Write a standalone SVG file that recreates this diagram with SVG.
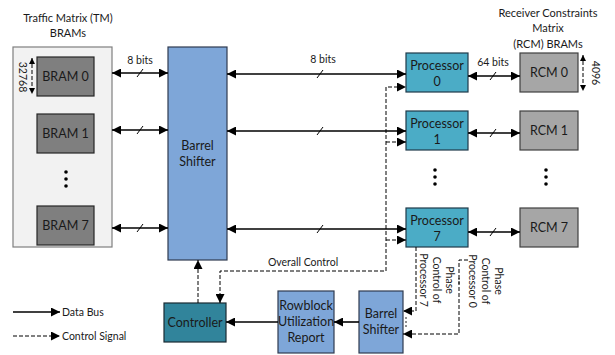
<svg xmlns="http://www.w3.org/2000/svg" width="615" height="355" viewBox="0 0 615 355">
  <style>
    text { font-family: Lato, "Open Sans", "Liberation Sans", sans-serif; fill: #1a1a1a; }
    .lbl { font-size: 11px; text-anchor: middle; }
    .box { font-size: 12.5px; text-anchor: middle; }
    .small { font-size: 10.5px; }
    .bram { fill: #7f7f7f; stroke: #262626; stroke-width: 1.2; }
    .rcm { fill: #a6a6a6; stroke: #404040; stroke-width: 1.2; }
    .proc { fill: #4bacc6; stroke: #1f3a4a; stroke-width: 1.2; }
    .bs { fill: #7ea6d8; stroke: #2f3b50; stroke-width: 1.2; }
    .ctrl { fill: #31849b; stroke: #1a2a33; stroke-width: 1.2; }
    .bus { stroke: #000; stroke-width: 1.6; fill: none; }
    .sig { stroke: #000; stroke-width: 1; stroke-dasharray: 4 2; fill: none; }
    .tick { stroke: #000; stroke-width: 1; }
    .dot { fill: #000; }
  </style>
  <defs>
    <marker id="ah" viewBox="0 0 10 10" refX="10" refY="5" markerWidth="6" markerHeight="6" orient="auto-start-reverse" markerUnits="userSpaceOnUse">
      <path d="M0,0 L10,5 L0,10 Z" fill="#000"/>
    </marker>
    <marker id="ahb" viewBox="0 0 10 10" refX="10" refY="5" markerWidth="10" markerHeight="9" orient="auto-start-reverse" markerUnits="userSpaceOnUse">
      <path d="M0,0 L10,5 L0,10 Z" fill="#000"/>
    </marker>
  </defs>

  <!-- Traffic Matrix BRAM bank -->
  <g id="tm-bank">
    <text class="lbl" x="68" y="22">Traffic Matrix (TM)</text>
    <text class="lbl" x="68" y="37">BRAMs</text>
    <rect x="13" y="47" width="99" height="200" fill="#f2f2f2" stroke="#7f7f7f" stroke-width="1.2"/>
    <text class="small" transform="translate(19,77) rotate(90)" text-anchor="middle">32768</text>
  </g>
  <g id="bram0">
    <rect class="bram" x="37" y="57" width="57" height="39"/>
    <text class="box" x="65.5" y="81">BRAM 0</text>
  </g>
  <g id="bram1">
    <rect class="bram" x="37" y="114" width="57" height="39"/>
    <text class="box" x="65.5" y="138">BRAM 1</text>
  </g>
  <g id="bram-dots">
    <circle class="dot" cx="66" cy="172" r="1.8"/>
    <circle class="dot" cx="66" cy="179" r="1.8"/>
    <circle class="dot" cx="66" cy="186" r="1.8"/>
  </g>
  <g id="bram7">
    <rect class="bram" x="37" y="206" width="57" height="39"/>
    <text class="box" x="65.5" y="230">BRAM 7</text>
  </g>

  <!-- Main barrel shifter -->
  <g id="barrel-shifter">
    <rect class="bs" x="168" y="47" width="59" height="213"/>
    <text class="box" x="197.5" y="150">Barrel</text>
    <text class="box" x="197.5" y="166">Shifter</text>
  </g>

  <!-- Processors -->
  <g id="processor0">
    <rect class="proc" x="406" y="53" width="62" height="39"/>
    <text class="box" x="437" y="70">Processor</text>
    <text class="box" x="437" y="86">0</text>
  </g>
  <g id="processor1">
    <rect class="proc" x="406" y="111" width="62" height="39"/>
    <text class="box" x="437" y="128">Processor</text>
    <text class="box" x="437" y="144">1</text>
  </g>
  <g id="proc-dots">
    <circle class="dot" cx="435" cy="170" r="1.8"/>
    <circle class="dot" cx="435" cy="177" r="1.8"/>
    <circle class="dot" cx="435" cy="184" r="1.8"/>
  </g>
  <g id="processor7">
    <rect class="proc" x="406" y="208" width="62" height="39"/>
    <text class="box" x="437" y="225">Processor</text>
    <text class="box" x="437" y="241">7</text>
  </g>

  <!-- Receiver constraints matrix BRAMs -->
  <g id="rcm-title">
    <text class="lbl" x="548" y="17">Receiver Constraints</text>
    <text class="lbl" x="548" y="32">Matrix</text>
    <text class="lbl" x="548" y="48">(RCM) BRAMs</text>
    <text class="small" transform="translate(592,73) rotate(90)" text-anchor="middle">4096</text>
  </g>
  <g id="rcm0">
    <rect class="rcm" x="520" y="53" width="58" height="39"/>
    <text class="box" x="549" y="77">RCM 0</text>
  </g>
  <g id="rcm1">
    <rect class="rcm" x="520" y="111" width="58" height="39"/>
    <text class="box" x="549" y="135">RCM 1</text>
  </g>
  <g id="rcm-dots">
    <circle class="dot" cx="546" cy="170" r="1.8"/>
    <circle class="dot" cx="546" cy="177" r="1.8"/>
    <circle class="dot" cx="546" cy="184" r="1.8"/>
  </g>
  <g id="rcm7">
    <rect class="rcm" x="520" y="208" width="58" height="39"/>
    <text class="box" x="549" y="232">RCM 7</text>
  </g>

  <!-- Bottom control path -->
  <g id="controller">
    <rect class="ctrl" x="164" y="303" width="62" height="39"/>
    <text class="box" x="195" y="327">Controller</text>
  </g>
  <g id="rowblock-report">
    <rect class="bs" x="278" y="291" width="56" height="62"/>
    <text class="box" x="306" y="310">Rowblock</text>
    <text class="box" x="306" y="326">Utilization</text>
    <text class="box" x="306" y="342">Report</text>
  </g>
  <g id="phase-barrel-shifter">
    <rect class="bs" x="359" y="291" width="44" height="62"/>
    <text class="box" x="381" y="318">Barrel</text>
    <text class="box" x="381" y="334">Shifter</text>
  </g>

  <!-- Legend -->
  <g id="legend">
    <line class="bus" x1="13" y1="312" x2="60" y2="312" marker-end="url(#ahb)"/>
    <text class="small" x="62" y="316">Data Bus</text>
    <line class="sig" x1="13" y1="336" x2="60" y2="336" marker-end="url(#ahb)"/>
    <text class="small" x="62" y="340">Control Signal</text>
  </g>

  <!-- Connectors -->
  <g id="connectors">
    <!-- depth markers -->
    <line class="sig" x1="32" y1="58" x2="32" y2="94" marker-start="url(#ah)" marker-end="url(#ah)"/>
    <line class="sig" x1="583" y1="55" x2="583" y2="91" marker-start="url(#ah)" marker-end="url(#ah)"/>

    <!-- TM BRAMs to barrel shifter -->
    <line class="bus" x1="112" y1="73" x2="168" y2="73" marker-start="url(#ahb)" marker-end="url(#ahb)"/>
    <line class="bus" x1="112" y1="130" x2="168" y2="130" marker-start="url(#ahb)" marker-end="url(#ahb)"/>
    <line class="bus" x1="112" y1="228" x2="168" y2="228" marker-start="url(#ahb)" marker-end="url(#ahb)"/>
    <text class="small" x="140" y="64" text-anchor="middle">8 bits</text>
    <line class="tick" x1="137" y1="77" x2="143" y2="69"/>
    <line class="tick" x1="137" y1="134" x2="143" y2="126"/>
    <line class="tick" x1="137" y1="232" x2="143" y2="224"/>

    <!-- barrel shifter to processors -->
    <line class="bus" x1="227" y1="74" x2="406" y2="74" marker-start="url(#ahb)" marker-end="url(#ahb)"/>
    <line class="bus" x1="227" y1="131" x2="406" y2="131" marker-start="url(#ahb)" marker-end="url(#ahb)"/>
    <line class="bus" x1="227" y1="229" x2="406" y2="229" marker-start="url(#ahb)" marker-end="url(#ahb)"/>
    <text class="small" x="323" y="63" text-anchor="middle">8 bits</text>
    <line class="tick" x1="317" y1="78" x2="323" y2="70"/>
    <line class="tick" x1="317" y1="135" x2="323" y2="127"/>
    <line class="tick" x1="317" y1="233" x2="323" y2="225"/>

    <!-- processors to RCMs -->
    <line class="bus" x1="468" y1="76" x2="520" y2="76" marker-start="url(#ahb)" marker-end="url(#ahb)"/>
    <line class="bus" x1="468" y1="133" x2="520" y2="133" marker-start="url(#ahb)" marker-end="url(#ahb)"/>
    <line class="bus" x1="468" y1="232" x2="520" y2="232" marker-start="url(#ahb)" marker-end="url(#ahb)"/>
    <text class="small" x="493" y="66" text-anchor="middle">64 bits</text>
    <line class="tick" x1="490" y1="80" x2="496" y2="72"/>
    <line class="tick" x1="490" y1="137" x2="496" y2="129"/>
    <line class="tick" x1="490" y1="236" x2="496" y2="228"/>

    <!-- overall control -->
    <path class="sig" d="M220,303 L220,271 L386,271 L386,87 L406,87" marker-start="url(#ahb)" marker-end="url(#ahb)"/>
    <line class="sig" x1="386" y1="142" x2="406" y2="142" marker-end="url(#ahb)"/>
    <line class="sig" x1="386" y1="240" x2="406" y2="240" marker-end="url(#ahb)"/>
    <text class="small" x="303" y="266" text-anchor="middle">Overall Control</text>

    <!-- controller to barrel shifter -->
    <line class="sig" x1="198" y1="303" x2="198" y2="260" marker-end="url(#ahb)"/>

    <!-- report path -->
    <line class="bus" x1="278" y1="322" x2="226" y2="322" stroke="#404040" marker-end="url(#ahb)"/>
    <line class="bus" x1="359" y1="322" x2="334" y2="322" marker-end="url(#ahb)"/>

    <!-- phase control -->
    <path class="sig" d="M416,247 L416,311 L403,311" marker-end="url(#ahb)"/>
    <path class="sig" d="M468,260 L459,260 L459,334 L403,334" marker-end="url(#ahb)"/>
    <circle class="dot" cx="406" cy="318" r="0.8"/>
    <circle class="dot" cx="406" cy="322" r="0.8"/>
    <circle class="dot" cx="406" cy="326" r="0.8"/>
    <circle class="dot" cx="459" cy="279" r="0.8"/>
    <circle class="dot" cx="459" cy="283" r="0.8"/>
    <text class="small" transform="translate(450,280) rotate(90)" text-anchor="middle" dy="0.35em">Phase</text>
    <text class="small" transform="translate(437,280) rotate(90)" text-anchor="middle" dy="0.35em">Control of</text>
    <text class="small" transform="translate(424,280) rotate(90)" text-anchor="middle" dy="0.35em">Processor 7</text>
    <text class="small" transform="translate(499,281) rotate(90)" text-anchor="middle" dy="0.35em">Phase</text>
    <text class="small" transform="translate(486,281) rotate(90)" text-anchor="middle" dy="0.35em">Control of</text>
    <text class="small" transform="translate(473,281) rotate(90)" text-anchor="middle" dy="0.35em">Processor 0</text>
  </g>
</svg>
